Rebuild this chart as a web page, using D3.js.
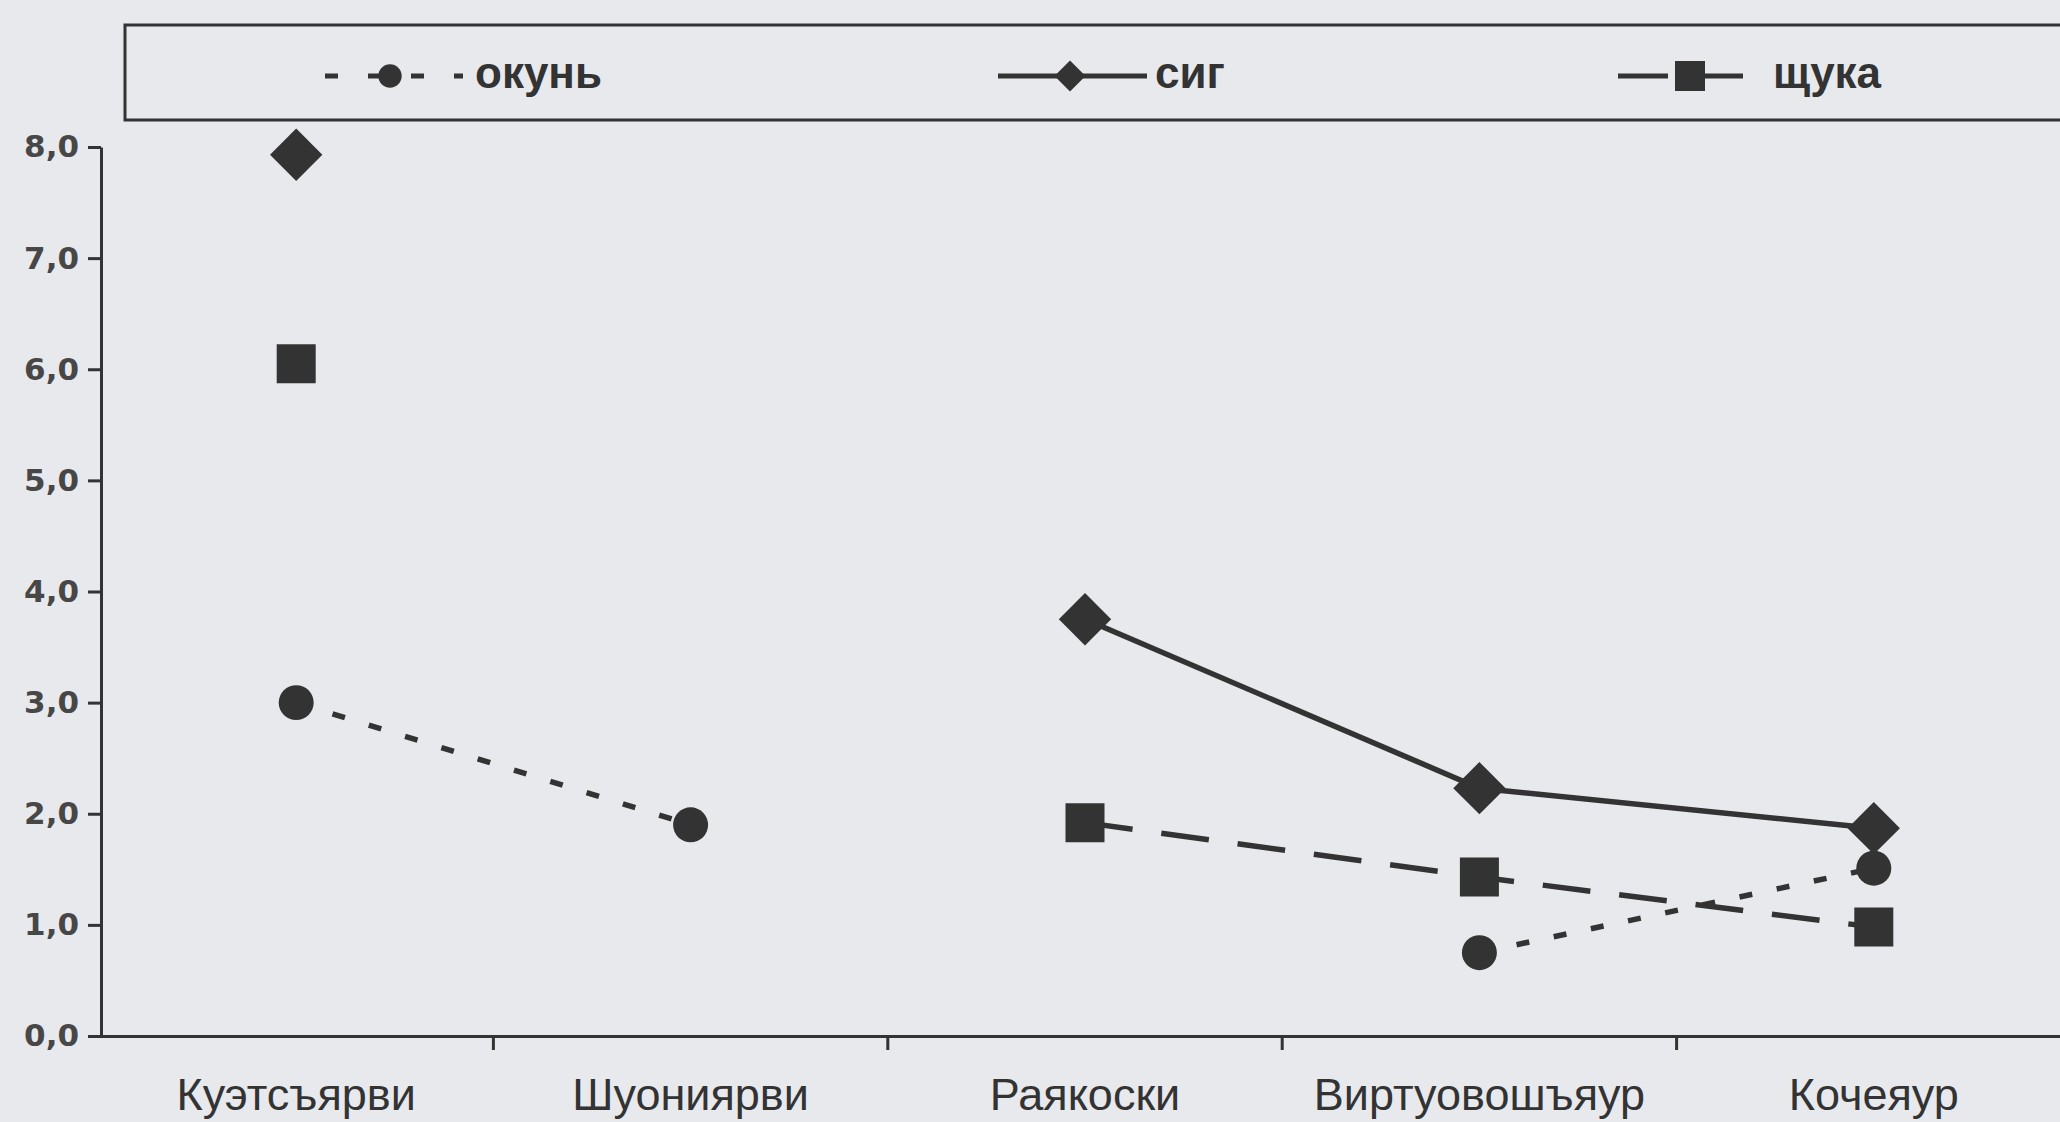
<!DOCTYPE html>
<html>
<head>
<meta charset="utf-8">
<script src="https://cdn.jsdelivr.net/npm/d3@7"></script>
<style>
  html, body { margin: 0; padding: 0; background: #e7e9ed; }
  svg { display: block; }
</style>
</head>
<body>
<script>
const categories = ["Куэтсъярви", "Шуониярви", "Раякоски", "Виртуовошъяур", "Кочеяур"];
const okun    = [3.0, 1.9, null, 0.75, 1.51];
const sig     = [7.93, null, 3.75, 2.23, 1.87];
const shchuka = [6.05, null, 1.92, 1.43, 0.98];
const seriesNames = ["окунь", "сиг", "щука"];
const yTicks = [0, 1, 2, 3, 4, 5, 6, 7, 8];
const yTickLabels = ["0,0", "1,0", "2,0", "3,0", "4,0", "5,0", "6,0", "7,0", "8,0"];

const W = 2060, H = 1122;
const ink = "#333333";

const svg = d3.select("body").append("svg").attr("width", W).attr("height", H);
svg.append("rect").attr("width", W).attr("height", H).attr("fill", "#e7e9ed");

const x = d3.scaleBand().domain(categories).range([99, 2071]).paddingInner(0).paddingOuter(0);
const y = d3.scaleLinear().domain([0, 8]).range([1036, 147]);

// Y axis
const yAxis = svg.append("g").attr("transform", "translate(101,0)")
  .call(d3.axisLeft(y).tickValues(yTicks).tickFormat((d, i) => yTickLabels[i]).tickSize(13).tickPadding(9).tickSizeOuter(0));
yAxis.select(".domain").attr("stroke", ink).attr("stroke-width", 3);
yAxis.selectAll(".tick line").attr("stroke", ink).attr("stroke-width", 3);
yAxis.selectAll(".tick text")
  .attr("font-family", "'DejaVu Sans', sans-serif").attr("font-weight", "bold")
  .attr("font-size", 31).attr("fill", "#474747");

// X axis
const xAxis = svg.append("g").attr("transform", "translate(0,1036)")
  .call(d3.axisBottom(x).tickSize(0).tickSizeOuter(0));
xAxis.select(".domain").attr("stroke", ink).attr("stroke-width", 3);
xAxis.selectAll(".tick text")
  .attr("y", 74).attr("dy", 0)
  .attr("font-family", "'Liberation Sans Narrow', 'Arial Narrow', 'Liberation Sans', sans-serif")
  .attr("font-size", 45).attr("fill", ink);
// boundary ticks between categories
xAxis.selectAll(".bound").data(categories.slice(1)).join("line")
  .attr("class", "bound")
  .attr("x1", d => x(d)).attr("x2", d => x(d))
  .attr("y1", 0).attr("y2", 14)
  .attr("stroke", ink).attr("stroke-width", 3);

// Series
const series = [
  { name: seriesNames[0], values: okun, dash: "13,25", shape: "circle" },
  { name: seriesNames[1], values: sig, dash: null, shape: "diamond" },
  { name: seriesNames[2], values: shchuka, dash: "48,29", shape: "square" }
];

const cx = i => x(categories[i]) + x.bandwidth() / 2;
const line = d3.line().defined(d => d.v != null).x(d => cx(d.i)).y(d => y(d.v));

function symbolPath(shape, big) {
  if (shape === "circle") return d3.symbol(d3.symbolCircle, big ? 962 : 430)();
  if (shape === "square") return d3.symbol(d3.symbolSquare, big ? 1521 : 900)();
  return d3.symbol(d3.symbolSquare, big ? 1369 : 480)();
}

series.forEach(s => {
  const pts = s.values.map((v, i) => ({ v, i }));
  svg.append("path").datum(pts)
    .attr("d", line)
    .attr("fill", "none").attr("stroke", ink).attr("stroke-width", 5.5)
    .attr("stroke-dasharray", s.dash);
});
series.forEach(s => {
  const pts = s.values.map((v, i) => ({ v, i })).filter(d => d.v != null);
  svg.selectAll(null).data(pts).join("path")
    .attr("d", symbolPath(s.shape, true))
    .attr("transform", d => `translate(${cx(d.i)},${y(d.v)})` + (s.shape === "diamond" ? " rotate(45)" : ""))
    .attr("fill", ink);
});

// Legend box
svg.append("path")
  .attr("d", d3.line()([[2070, 25], [125, 25], [125, 120], [2070, 120]]))
  .attr("fill", "none").attr("stroke", ink).attr("stroke-width", 3);

const legendItems = [
  { s: series[0], x1: 325, x2: 463, mx: 390, tx: 475 },
  { s: series[1], x1: 998, x2: 1147, mx: 1070, tx: 1155 },
  { s: series[2], x1: 1618, x2: 1743, mx: 1690, tx: 1773 }
];
const ly = 76;
legendItems.forEach(it => {
  svg.append("line").attr("x1", it.x1).attr("x2", it.x2).attr("y1", ly).attr("y2", ly)
    .attr("stroke", ink).attr("stroke-width", 5)
    .attr("stroke-dasharray", it.s.dash ? (it.s.shape === "circle" ? "13,30" : "50,29") : null);
  svg.append("path").attr("d", symbolPath(it.s.shape, false))
    .attr("transform", `translate(${it.mx},${ly})` + (it.s.shape === "diamond" ? " rotate(45)" : ""))
    .attr("fill", ink);
  svg.append("text").attr("x", it.tx).attr("y", 88).text(it.s.name)
    .attr("font-family", "'Liberation Sans', Arial, sans-serif").attr("font-weight", "bold")
    .attr("font-size", 44).attr("fill", ink);
});
</script>
</body>
</html>
